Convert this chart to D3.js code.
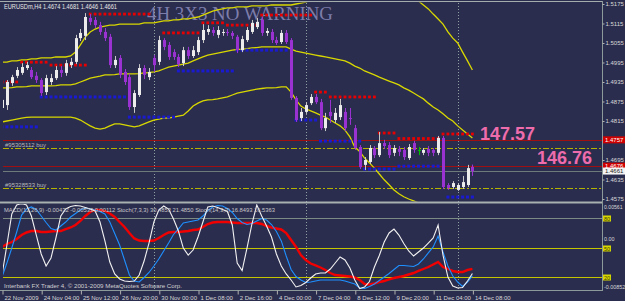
<!DOCTYPE html>
<html>
<head>
<meta charset="utf-8">
<script src="https://cdn.jsdelivr.net/npm/d3@7"></script>
<style>
html, body { margin: 0; padding: 0; background: #2b2d4f; }
svg { display: block; }
text { font-family: "Liberation Sans", Arial, sans-serif; }
</style>
</head>
<body>
<svg id="chart" width="625" height="301"></svg>
<script>
// EURUSDm H4 candles, bar 0 = 22 Nov 2009 20:00
const open = [
  1.4855,1.4864,1.4932,1.4954,1.4963,1.4978,1.4972,1.4954,1.4941,1.4904,
  1.4935,1.4947,1.4972,1.4963,1.4987,1.4997,1.5070,1.5077,1.5132,1.5126,
  1.5110,1.5089,1.5074,1.4987,1.5009,1.4966,1.4950,1.4858,1.4895,1.4978,
  1.4950,1.5009,1.4997,1.5064,1.5049,1.5027,1.5012,1.4993,1.5033,1.5015,
  1.5027,1.5064,1.5089,1.5095,1.5080,1.5086,1.5089,1.5086,1.5074,1.5033,
  1.5064,1.5089,1.5104,1.5126,1.5086,1.5089,1.5064,1.5058,1.5086,1.5064,
  1.4886,1.4824,1.4843,1.4870,1.4889,1.4873,1.4793,1.4843,1.4818,1.4827,
  1.4843,1.4824,1.4793,1.4735,1.4680,1.4689,1.4732,1.4710,1.4747,1.4741,
  1.4717,1.4729,1.4726,1.4701,1.4747,1.4726,1.4717,1.4729,1.4726,1.4717,
  1.4763,1.4618,1.4612,1.4603,1.4612,1.4618,1.4674
];
const close = [
  1.4880,1.4935,1.4950,1.4972,1.4981,1.4987,1.4950,1.4941,1.4901,1.4947,
  1.4947,1.4972,1.4963,1.4993,1.4997,1.5070,1.5086,1.5135,1.5120,1.5110,
  1.5089,1.5070,1.4987,1.5003,1.4957,1.4935,1.4858,1.4901,1.4978,1.4957,
  1.4966,1.4987,1.5064,1.5043,1.5012,1.5012,1.4990,1.5033,1.5015,1.5033,
  1.5064,1.5095,1.5098,1.5086,1.5095,1.5089,1.5086,1.5077,1.5033,1.5067,
  1.5095,1.5117,1.5120,1.5086,1.5092,1.5064,1.5055,1.5086,1.5058,1.4886,
  1.4818,1.4843,1.4864,1.4889,1.4873,1.4793,1.4824,1.4830,1.4840,1.4864,
  1.4793,1.4821,1.4732,1.4673,1.4695,1.4732,1.4710,1.4747,1.4738,1.4710,
  1.4732,1.4720,1.4704,1.4735,1.4726,1.4726,1.4726,1.4717,1.4717,1.4763,
  1.4612,1.4609,1.4624,1.4618,1.4627,1.4670,1.4661
];
const high = [
  1.4889,1.4941,1.4957,1.4981,1.4993,1.4997,1.4981,1.4966,1.4947,1.4957,
  1.4960,1.4984,1.4984,1.5003,1.5009,1.5080,1.5098,1.5147,1.5144,1.5135,
  1.5120,1.5101,1.5083,1.5015,1.5018,1.4975,1.4960,1.4910,1.4990,1.4987,
  1.4978,1.5018,1.5077,1.5070,1.5058,1.5036,1.5021,1.5043,1.5043,1.5046,
  1.5074,1.5113,1.5110,1.5104,1.5107,1.5098,1.5098,1.5092,1.5080,1.5077,
  1.5104,1.5126,1.5132,1.5135,1.5101,1.5098,1.5074,1.5095,1.5095,1.5070,
  1.4892,1.4855,1.4873,1.4898,1.4898,1.4883,1.4840,1.4880,1.4855,1.4883,
  1.4855,1.4855,1.4803,1.4741,1.4704,1.4741,1.4738,1.4781,1.4757,1.4750,
  1.4741,1.4738,1.4735,1.4744,1.4754,1.4735,1.4732,1.4738,1.4732,1.4769,
  1.4769,1.4624,1.4630,1.4624,1.4646,1.4680,1.4681
];
const low = [
  1.4849,1.4849,1.4923,1.4947,1.4957,1.4972,1.4944,1.4932,1.4892,1.4895,
  1.4926,1.4941,1.4950,1.4954,1.4978,1.4990,1.5061,1.5064,1.5110,1.5101,
  1.5080,1.5061,1.4978,1.4978,1.4947,1.4926,1.4849,1.4840,1.4889,1.4944,
  1.4941,1.4966,1.4987,1.5033,1.5003,1.5003,1.4981,1.4984,1.5006,1.5009,
  1.5018,1.5055,1.5080,1.5077,1.5070,1.5077,1.5077,1.5067,1.5024,1.5027,
  1.5058,1.5083,1.5098,1.5077,1.5077,1.5055,1.5049,1.5052,1.5052,1.4880,
  1.4812,1.4815,1.4837,1.4864,1.4867,1.4787,1.4784,1.4809,1.4809,1.4818,
  1.4784,1.4803,1.4726,1.4667,1.4664,1.4683,1.4701,1.4704,1.4729,1.4701,
  1.4707,1.4707,1.4695,1.4695,1.4717,1.4710,1.4710,1.4707,1.4707,1.4710,
  1.4606,1.4603,1.4606,1.4600,1.4606,1.4612,1.4646
];

// Bollinger bands
const bbUpper = [
  1.4996,1.4996,1.5000,1.5000,1.5003,1.5003,1.5006,1.5006,1.5009,1.5009,
  1.5009,1.5012,1.5012,1.5012,1.5015,1.5027,1.5049,1.5073,1.5089,1.5098,
  1.5104,1.5107,1.5110,1.5110,1.5113,1.5113,1.5113,1.5113,1.5113,1.5117,
  1.5117,1.5117,1.5120,1.5123,1.5123,1.5126,1.5126,1.5129,1.5129,1.5132,
  1.5135,1.5141,1.5147,1.5153,1.5157,1.5160,1.5163,1.5163,1.5166,1.5166,
  1.5166,1.5169,1.5169,1.5169,1.5169,1.5172,1.5172,1.5172,1.5172,1.5172,
  1.5175,1.5178,1.5181,1.5187,1.5193,1.5203,1.5212,1.5221,1.5230,1.5237,
  1.5243,1.5246,1.5249,1.5249,1.5249,1.5246,1.5243,1.5237,1.5230,1.5224,
  1.5218,1.5212,1.5203,1.5197,1.5190,1.5184,1.5172,1.5160,1.5144,1.5129,
  1.5113,1.5089,1.5070,1.5055,1.5027,1.5000,1.4972
];
const bbMiddle = [
  1.4917,1.4917,1.4918,1.4920,1.4920,1.4921,1.4923,1.4923,1.4923,1.4923,
  1.4923,1.4924,1.4926,1.4926,1.4926,1.4929,1.4935,1.4941,1.4947,1.4950,
  1.4953,1.4957,1.4957,1.4958,1.4960,1.4960,1.4960,1.4960,1.4961,1.4963,
  1.4964,1.4966,1.4969,1.4975,1.4981,1.4984,1.4987,1.4990,1.4993,1.5000,
  1.5006,1.5012,1.5018,1.5021,1.5024,1.5027,1.5030,1.5033,1.5035,1.5036,
  1.5038,1.5040,1.5041,1.5043,1.5043,1.5043,1.5043,1.5043,1.5043,1.5036,
  1.5030,1.5027,1.5024,1.5021,1.5018,1.5015,1.5012,1.5009,1.5006,1.5003,
  1.5000,1.4993,1.4984,1.4978,1.4969,1.4963,1.4957,1.4950,1.4944,1.4938,
  1.4932,1.4926,1.4917,1.4910,1.4901,1.4892,1.4883,1.4870,1.4858,1.4849,
  1.4837,1.4824,1.4815,1.4800,1.4787,1.4775,1.4763
];
const bbLower = [
  1.4812,1.4815,1.4818,1.4821,1.4824,1.4826,1.4827,1.4827,1.4827,1.4827,
  1.4827,1.4827,1.4827,1.4827,1.4827,1.4824,1.4818,1.4809,1.4800,1.4793,
  1.4790,1.4793,1.4800,1.4806,1.4806,1.4803,1.4800,1.4797,1.4800,1.4806,
  1.4812,1.4818,1.4821,1.4824,1.4824,1.4827,1.4830,1.4833,1.4846,1.4861,
  1.4870,1.4877,1.4880,1.4881,1.4883,1.4886,1.4889,1.4895,1.4901,1.4904,
  1.4907,1.4910,1.4913,1.4915,1.4917,1.4917,1.4918,1.4920,1.4920,1.4904,
  1.4880,1.4861,1.4852,1.4846,1.4840,1.4833,1.4827,1.4818,1.4809,1.4800,
  1.4787,1.4766,1.4735,1.4721,1.4701,1.4686,1.4670,1.4652,1.4634,1.4619,
  1.4603,1.4591,1.4582,1.4575,1.4569,1.4563,1.4557,1.4544,1.4535,1.4526,
  1.4504,1.4486,1.4473,1.4461,1.4449,1.4437,1.4424
];

// resistance (red) and support (blue) dot levels
const resLevel = [
  1.4935,1.4935,1.4935,1.4935,1.4996,1.4996,1.4996,1.4996,1.4996,1.4996,
  1.4987,1.4987,1.4987,1.4987,1.4987,1.4987,1.4987,1.4987,1.5144,1.5144,
  1.5144,1.5144,1.5144,1.5144,1.5144,1.5144,1.5144,1.5144,1.5144,1.5144,
  1.5144,null,null,1.5086,1.5086,1.5086,1.5086,1.5086,1.5086,1.5086,
  1.5086,1.5117,1.5117,1.5117,1.5117,1.5117,1.5110,1.5110,1.5110,1.5110,
  1.5110,1.5110,1.5110,1.5141,1.5141,1.5141,1.5141,1.5141,1.5141,1.5141,
  1.5141,1.5141,1.5141,1.5141,1.4904,1.4904,1.4904,1.4889,1.4889,1.4889,
  1.4889,1.4889,1.4889,1.4889,1.4889,1.4889,1.4889,1.4778,1.4778,1.4778,
  1.4778,1.4761,1.4761,1.4761,1.4761,1.4761,1.4761,1.4761,1.4761,1.4761,
  1.4775,1.4775,1.4775,1.4775,1.4775,1.4775,1.4775
];
const supLevel = [
  1.4797,1.4797,1.4797,1.4797,1.4797,1.4797,1.4797,1.4797,1.4889,1.4889,
  1.4889,1.4889,1.4889,1.4889,1.4889,1.4889,1.4889,1.4889,1.4889,1.4889,
  1.4889,1.4889,1.4889,1.4889,1.4889,1.4889,1.4827,1.4827,1.4827,1.4827,
  1.4827,1.4827,1.4827,1.4827,1.4827,1.4827,1.4969,1.4969,1.4969,1.4969,
  1.4969,1.4969,1.4969,1.4969,1.4969,1.4969,1.4969,1.4969,1.5033,1.5033,
  1.5033,1.5033,1.5033,1.5033,1.5033,1.5033,1.5033,1.5033,1.5033,null,
  1.4818,1.4818,1.4818,1.4818,1.4818,1.4753,1.4753,1.4753,1.4753,1.4753,
  1.4753,1.4753,1.4753,1.4753,1.4667,1.4667,1.4667,1.4667,1.4667,1.4667,
  1.4667,1.4676,1.4676,1.4676,1.4676,1.4676,1.4676,1.4676,1.4676,1.4676,
  null,1.4581,1.4581,1.4581,1.4581,1.4581,1.4581
];

// indicator window
const macdSignal = [
  -0.00145,-0.00092,-0.00057,-0.00004,0.00067,0.00111,0.00137,0.00137,0.00119,0.00119,
  0.00128,0.00137,0.00137,0.00172,0.00199,0.00243,0.00314,0.00402,0.00473,0.00508,
  0.00508,0.00490,0.00446,0.00384,0.00296,0.00208,0.00102,0.00005,-0.00031,-0.00039,
  -0.00039,-0.00031,0.00014,0.00067,0.00111,0.00119,0.00119,0.00128,0.00137,0.00155,
  0.00164,0.00208,0.00261,0.00287,0.00296,0.00296,0.00296,0.00287,0.00278,0.00278,
  0.00278,0.00278,0.00278,0.00261,0.00225,0.00199,0.00181,0.00164,0.00102,-0.00022,
  -0.00145,-0.00287,-0.00375,-0.00437,-0.00472,-0.00507,-0.00552,-0.00605,-0.00640,-0.00649,
  -0.00658,-0.00666,-0.00684,-0.00728,-0.00799,-0.00808,-0.00790,-0.00764,-0.00746,-0.00719,
  -0.00693,-0.00675,-0.00658,-0.00631,-0.00605,-0.00569,-0.00534,-0.00499,-0.00454,-0.00410,
  -0.00499,-0.00534,-0.00569,-0.00587,-0.00587,-0.00552,-0.00533
];
const stochFast = [
  22.3,52.8,84.3,93.4,94.9,93.4,82.2,62.9,43.7,31.5,
  39.6,59.9,82.2,89.3,91.9,92.9,92.4,90.9,89.3,87.3,
  76.1,56.9,35.5,23.4,18.3,16.2,15.7,16.2,22.3,36.5,
  54.8,76.1,88.3,92.4,89.3,79.2,67.0,49.7,42.6,47.7,
  60.9,76.1,91.4,92.4,90.9,88.8,86.8,73.1,34.5,26.9,
  49.7,74.1,93.4,82.2,72.1,60.9,43.7,31.5,23.4,17.3,
  10.2,11.7,14.7,19.3,23.4,24.4,24.4,28.4,34.5,40.6,
  37.6,29.4,17.3,8.6,10.2,15.7,30.5,42.1,55.8,65.0,
  69.0,62.9,54.3,46.7,41.6,45.7,49.7,54.8,59.9,73.1,
  42.6,20.3,11.2,9.1,9.6,16.2,23.9
];
const stochSlow = [
  20.3,34.5,49.7,66.0,83.2,89.3,91.4,88.8,82.2,75.6,
  69.5,68.0,72.1,76.1,81.2,84.8,88.3,90.4,89.3,88.3,
  86.8,84.3,76.1,64.5,52.8,37.6,22.3,16.2,15.2,19.8,
  24.9,31.5,38.6,46.7,54.8,63.5,69.0,75.1,76.1,77.2,
  78.2,82.2,87.8,91.4,92.9,92.4,89.8,85.8,79.7,75.6,
  73.6,74.6,77.2,79.7,78.2,73.6,66.5,56.9,41.6,27.9,
  20.8,17.3,14.7,15.2,16.2,17.3,17.3,17.3,17.3,17.3,
  16.2,14.7,13.2,9.1,8.6,10.7,13.2,16.8,20.3,23.9,
  27.9,32.0,32.0,31.5,31.0,33.5,38.6,44.7,50.8,61.9,
  45.7,31.5,21.3,15.2,10.7,15.2,21.5
];

// axes, levels and labels
const timeIdx = [0, 8, 16, 24, 32, 40, 48, 56, 64, 72, 80, 88, 96];
const timeLabels = ['22 Nov 2009', '24 Nov 04:00', '25 Nov 12:00', '26 Nov 20:00', '30 Nov 00:00',
  '1 Dec 08:00', '2 Dec 16:00', '4 Dec 00:00', '7 Dec 04:00', '8 Dec 12:00', '9 Dec 20:00',
  '11 Dec 04:00', '14 Dec 08:00'];
const weekStarts = [31, 62, 93];
const priceTicks = [1.5175, 1.5115, 1.5055, 1.4995, 1.4935, 1.4875, 1.4815, 1.4755, 1.4695, 1.4635, 1.4575];
const macdTicks = [0.00561, 0, -0.00852];
const macdTickLabels = ['0.00561', '0.00', '-0.00852'];
const stochLevels = [80, 50, 20];
const redLevels = [1.4757, 1.4676];
const bidPrice = 1.4661;
const orderPrices = [1.4731, 1.4608];
const orderLabels = ['#95305112 buy', '#95328533 buy'];
const bigLabels = ['147.57', '146.76'];

const W = 625, H = 301;
const svg = d3.select('#chart');
const defs = svg.append('defs');

// navy background
svg.append('rect').attr('width', W).attr('height', H).attr('fill', '#2b2d4f');

defs.append('clipPath').attr('id', 'clipMain')
    .append('rect').attr('x', 3).attr('y', 2.5).attr('width', 599).attr('height', 199);
defs.append('clipPath').attr('id', 'clipInd')
    .append('rect').attr('x', 3).attr('y', 204).attr('width', 599).attr('height', 86);

// scales
const x = d3.scaleLinear().domain([0, 96]).range([2, 472.4]);
const y = d3.scaleLinear().domain([1.4575, 1.5175]).range([199, 4]);
const yMacd = d3.scaleLinear().domain([-0.00852, 0.00561]).range([287, 207]);
const yStoch = d3.scaleLinear().domain([0, 100]).range([297, 198.5]);
const idx = d3.range(open.length);

// week separators across both windows
svg.append('g').selectAll('line').data(weekStarts).enter().append('line')
    .attr('x1', d => Math.round(x(d)) + 0.5).attr('x2', d => Math.round(x(d)) + 0.5)
    .attr('y1', 3).attr('y2', 290)
    .attr('stroke', '#8fa0a0').attr('stroke-dasharray', '1,2');

// watermark
svg.append('text').attr('x', 147).attr('y', 20)
    .attr('textLength', 186).attr('lengthAdjust', 'spacingAndGlyphs')
    .style('font-family', '"Liberation Serif", "Times New Roman", serif')
    .style('font-size', '19px').attr('fill', '#8c8cbc').attr('fill-opacity', 0.85)
    .text('4H 3X3 NO WARNING');

const main = svg.append('g').attr('clip-path', 'url(#clipMain)');

// order / level lines
main.selectAll('.red-level').data(redLevels).enter().append('line')
    .attr('x1', 3).attr('x2', 602)
    .attr('y1', d => Math.round(y(d)) + 0.5).attr('y2', d => Math.round(y(d)) + 0.5)
    .attr('stroke', '#a01010');
main.append('line').attr('x1', 3).attr('x2', 602)
    .attr('y1', Math.round(y(bidPrice)) + 0.5).attr('y2', Math.round(y(bidPrice)) + 0.5)
    .attr('stroke', '#6f7b7b');
main.selectAll('.order').data(orderPrices).enter().append('line')
    .attr('x1', 3).attr('x2', 602)
    .attr('y1', d => Math.round(y(d)) + 0.5).attr('y2', d => Math.round(y(d)) + 0.5)
    .attr('stroke', '#b4b400').attr('stroke-dasharray', '6,2,2,2');
main.selectAll('.order-label').data(orderPrices).enter().append('text')
    .attr('x', 5).attr('y', d => y(d) - 1.5)
    .style('font-size', '6px').attr('fill', '#b8b8b8')
    .text((d, i) => orderLabels[i]);

// Bollinger bands
const bandLine = d3.line().x((d, i) => x(i)).y(d => y(d));
[bbUpper, bbMiddle, bbLower].forEach(band => {
    main.append('path').datum(band).attr('d', bandLine)
        .attr('fill', 'none').attr('stroke', '#d8d800').attr('stroke-width', 1.3);
});

// dot levels
main.selectAll('.res').data(idx.filter(i => resLevel[i] !== null)).enter().append('rect')
    .attr('x', i => x(i) - 1.4).attr('y', i => y(resLevel[i]) - 1.4)
    .attr('width', 2.8).attr('height', 2.8).attr('fill', '#e80000');
main.selectAll('.sup').data(idx.filter(i => supLevel[i] !== null)).enter().append('rect')
    .attr('x', i => x(i) - 1.5).attr('y', i => y(supLevel[i]) - 1.5)
    .attr('width', 3).attr('height', 3).attr('fill', '#1a1ad0');

// candles
const candleColor = i => close[i] > open[i] ? '#ececec' : (close[i] < open[i] ? '#9a32d2' : '#00c000');
const candles = main.selectAll('.candle').data(idx).enter().append('g');
candles.append('line')
    .attr('x1', i => Math.round(x(i)) + 0.5).attr('x2', i => Math.round(x(i)) + 0.5)
    .attr('y1', i => y(high[i])).attr('y2', i => y(low[i]))
    .attr('stroke', i => close[i] > open[i] ? '#c8c8c8' : candleColor(i));
candles.append('rect')
    .attr('x', i => Math.round(x(i)) - 1)
    .attr('y', i => y(Math.max(open[i], close[i])))
    .attr('width', 3)
    .attr('height', i => Math.max(1, Math.abs(y(open[i]) - y(close[i]))))
    .attr('fill', candleColor);

// big price labels
svg.append('text').attr('x', 480).attr('y', 140)
    .style('font-size', '18px').style('font-weight', 'bold').attr('fill', '#ee6cac')
    .text(bigLabels[0]);
svg.append('text').attr('x', 537).attr('y', 164)
    .style('font-size', '18px').style('font-weight', 'bold').attr('fill', '#ee6cac')
    .text(bigLabels[1]);

// symbol title
svg.append('text').attr('x', 4).attr('y', 8.5)
    .attr('textLength', 113).attr('lengthAdjust', 'spacingAndGlyphs')
    .style('font-size', '6.5px').attr('fill', '#e6e6e6')
    .text('EURUSDm,H4  1.4674 1.4681 1.4646 1.4661');

// indicator window
const ind = svg.append('g').attr('clip-path', 'url(#clipInd)');
ind.append('line').attr('x1', 3).attr('x2', 602).attr('y1', 218.5).attr('y2', 218.5).attr('stroke', '#7c8c84');
ind.selectAll('.lvl').data(stochLevels.slice(1)).enter().append('line')
    .attr('x1', 3).attr('x2', 602)
    .attr('y1', d => Math.round(yStoch(d)) + 0.5).attr('y2', d => Math.round(yStoch(d)) + 0.5)
    .attr('stroke', '#c4c400');

ind.append('path').datum(macdSignal)
    .attr('d', d3.line().x((d, i) => x(i)).y(d => yMacd(d)))
    .attr('fill', 'none').attr('stroke', '#f00000').attr('stroke-width', 2.4);
ind.append('path').datum(stochSlow)
    .attr('d', d3.line().x((d, i) => x(i)).y(d => yStoch(d)))
    .attr('fill', 'none').attr('stroke', '#1e90ff').attr('stroke-width', 1.1);
ind.append('path').datum(stochFast)
    .attr('d', d3.line().x((d, i) => x(i)).y(d => yStoch(d)))
    .attr('fill', 'none').attr('stroke', '#f2f2f2').attr('stroke-width', 1.1);

svg.append('text').attr('x', 4).attr('y', 212)
    .attr('textLength', 271).attr('lengthAdjust', 'spacingAndGlyphs')
    .style('font-size', '6px').attr('fill', '#c8c8c8')
    .text('MACD(12,26,9) -0.00432 -0.00533 0.00112 Stoch(7,3,3) 30.4853 21.4850 Stoch(14,3,3) 16.8493 16.5363');
svg.append('text').attr('x', 4).attr('y', 287.5)
    .attr('textLength', 178).attr('lengthAdjust', 'spacingAndGlyphs')
    .style('font-size', '6px').attr('fill', '#d0d0d0')
    .text('Interbank FX Trader 4, \u00a9 2001-2009 MetaQuotes Software Corp.');

// frame lines
svg.append('line').attr('x1', 0).attr('x2', 603).attr('y1', 1.5).attr('y2', 1.5).attr('stroke', '#a4acac');
svg.append('line').attr('x1', 0).attr('x2', 603).attr('y1', 202.5).attr('y2', 202.5)
    .attr('stroke', '#a8b0b0').attr('stroke-width', 2);
svg.append('line').attr('x1', 0).attr('x2', 603).attr('y1', 290.5).attr('y2', 290.5).attr('stroke', '#8c9a9a');
svg.append('line').attr('x1', 602.5).attr('x2', 602.5).attr('y1', 1).attr('y2', 291).attr('stroke', '#8c9a9a');

// right price axis
const yAxis = d3.axisRight(y).tickValues(priceTicks).tickFormat(d3.format('.4f')).tickSize(2).tickPadding(1);
const ya = svg.append('g').attr('transform', 'translate(602.5,0)').call(yAxis);
ya.select('.domain').remove();
ya.selectAll('line').attr('stroke', '#b0b0b0');
ya.selectAll('text').style('font-size', '6px').attr('fill', '#d8d8d8');

// price tags
const tagPrices = [redLevels[0], redLevels[1], bidPrice];
const tagFill = ['#d00000', '#d00000', '#f4f4f4'];
const tagText = ['#ffffff', '#ffffff', '#202020'];
tagPrices.forEach((p, i) => {
    const cy = y(p);
    svg.append('rect').attr('x', 603).attr('y', cy - 3.5).attr('width', 22).attr('height', 7).attr('fill', tagFill[i]);
    svg.append('text').attr('x', 605).attr('y', cy + 2.2).style('font-size', '6px')
        .attr('fill', tagText[i]).text(d3.format('.4f')(p));
});

// indicator axis
macdTicks.forEach((v, i) => {
    svg.append('text').attr('x', 604).attr('y', yMacd(v) + 2)
        .attr('textLength', macdTickLabels[i].length * 2.65).attr('lengthAdjust', 'spacingAndGlyphs')
        .style('font-size', '5.5px').attr('fill', '#d8d8d8').text(macdTickLabels[i]);
});
stochLevels.forEach(v => {
    const cy = Math.round(yStoch(v)) + 0.5;
    svg.append('rect').attr('x', 603).attr('y', cy - 3).attr('width', 8).attr('height', 6).attr('fill', '#d8d800');
    svg.append('text').attr('x', 604).attr('y', cy + 2).style('font-size', '5.5px')
        .attr('fill', '#404000').text(v);
});

// time axis
const xAxis = d3.axisBottom(x).tickValues(timeIdx).tickFormat((d, i) => timeLabels[i]).tickSize(4).tickPadding(1);
const xa = svg.append('g').attr('transform', 'translate(0.5,290.5)').call(xAxis);
xa.select('.domain').remove();
xa.selectAll('line').attr('stroke', '#b0b0b0');
xa.selectAll('text').style('font-size', '6px').attr('fill', '#d8d8d8')
    .attr('text-anchor', 'start').attr('x', 1.5);
</script>
</body>
</html>
